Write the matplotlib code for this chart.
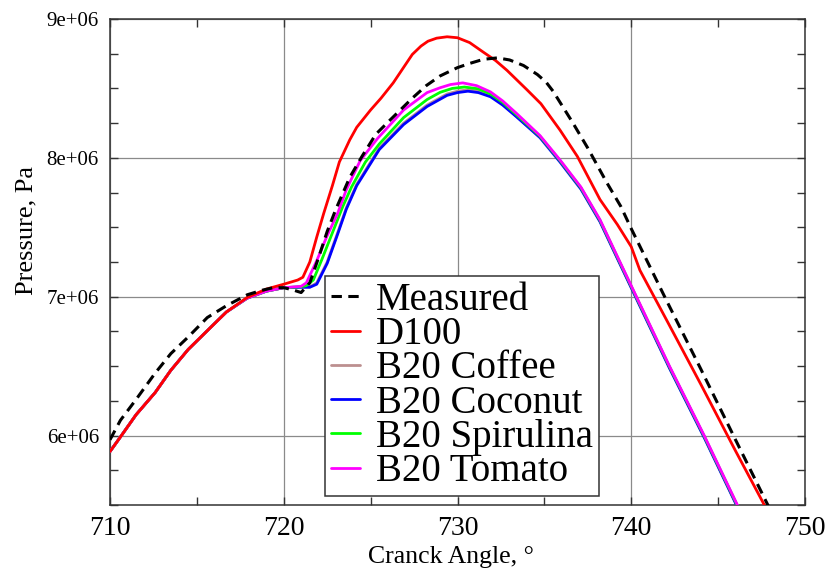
import matplotlib
matplotlib.use("Agg")
import matplotlib.pyplot as plt
from matplotlib.ticker import FixedLocator, MultipleLocator, FixedFormatter

plt.rcParams['font.family'] = ['Liberation Serif', 'DejaVu Serif']

# ---------------- data (pressure in Pa) ----------------
measured_x = [710.0, 710.6, 711.5, 712.6, 713.5, 714.5, 715.6, 716.7, 717.9, 718.7,
              719.4, 720.0, 720.5, 721.0, 721.5, 722.0, 722.5, 723.0, 723.8, 724.5,
              725.3, 726.1, 727.4, 728.2, 729.0, 730.0, 730.7, 731.5, 732.3, 733.0,
              733.8, 734.6, 735.1, 735.5, 736.6, 737.5, 738.6, 739.4, 740.0, 742.0,
              744.0, 746.0, 747.9]
measured_y = [5.97e6, 6.11e6, 6.26e6, 6.45e6, 6.59e6, 6.71e6, 6.85e6, 6.935e6, 7.014e6, 7.045e6,
              7.065e6, 7.065e6, 7.05e6, 7.03e6, 7.10e6, 7.28e6, 7.47e6, 7.63e6, 7.86e6, 8.01e6,
              8.17e6, 8.27e6, 8.43e6, 8.52e6, 8.59e6, 8.65e6, 8.68e6, 8.71e6, 8.72e6, 8.705e6,
              8.665e6, 8.60e6, 8.545e6, 8.48e6, 8.26e6, 8.07e6, 7.82e6, 7.65e6, 7.49e6, 6.98e6,
              6.48e6, 5.97e6, 5.49e6]

d100_x = [710.0, 710.6, 711.5, 712.6, 713.5, 714.5, 715.8, 716.7, 717.9, 719.0,
          720.0, 720.8, 721.1, 721.5, 721.9, 722.3, 722.8, 723.2, 723.8, 724.2,
          725.0, 725.6, 726.3, 727.4, 727.9, 728.3, 728.8, 729.4, 730.0, 730.7,
          731.5, 732.2, 732.85, 734.0, 734.8, 735.9, 736.9, 738.2, 739.2, 740.0,
          740.5, 742.0, 744.0, 746.0, 748.0]
d100_y = [5.885e6, 5.99e6, 6.15e6, 6.31e6, 6.47e6, 6.62e6, 6.78e6, 6.89e6, 6.995e6, 7.055e6,
          7.09e6, 7.12e6, 7.14e6, 7.25e6, 7.43e6, 7.60e6, 7.80e6, 7.97e6, 8.13e6, 8.22e6,
          8.345e6, 8.43e6, 8.54e6, 8.745e6, 8.805e6, 8.84e6, 8.862e6, 8.872e6, 8.865e6, 8.83e6,
          8.76e6, 8.70e6, 8.63e6, 8.49e6, 8.39e6, 8.20e6, 8.01e6, 7.70e6, 7.52e6, 7.36e6,
          7.19e6, 6.84e6, 6.37e6, 5.89e6, 5.42e6]

tomato_x = [710.0, 710.6, 711.5, 712.6, 713.5, 714.5, 715.8, 716.7, 717.9, 719.0,
            720.0, 721.0, 721.3, 721.9, 722.5, 723.1, 723.6, 724.4, 725.4, 726.9,
            728.25, 729.0, 729.6, 730.3, 731.1, 731.9, 732.6, 733.4, 734.75, 735.9,
            737.1, 738.2, 739.2, 740.3, 742.2, 744.2, 746.3]
tomato_y = [5.885e6, 5.99e6, 6.15e6, 6.31e6, 6.47e6, 6.62e6, 6.78e6, 6.89e6, 6.99e6, 7.04e6,
            7.065e6, 7.075e6, 7.10e6, 7.26e6, 7.44e6, 7.60e6, 7.77e6, 7.98e6, 8.14e6, 8.345e6,
            8.47e6, 8.505e6, 8.528e6, 8.54e6, 8.52e6, 8.475e6, 8.41e6, 8.32e6, 8.16e6, 7.985e6,
            7.79e6, 7.555e6, 7.29e6, 7.0e6, 6.5e6, 6.0e6, 5.45e6]

spirulina_x = [710.0, 710.6, 711.5, 712.6, 713.5, 714.5, 715.8, 716.7, 717.9, 719.0,
               720.0, 721.0, 721.3, 721.7, 722.2, 722.8, 723.4, 723.9, 724.7, 725.5,
               726.9, 728.25, 729.0, 729.7, 730.4, 731.2, 731.9, 732.6, 733.4, 734.75,
               735.9, 737.1, 738.2, 739.2, 740.3, 742.2, 744.2, 746.3]
spirulina_y = [5.885e6, 5.99e6, 6.15e6, 6.31e6, 6.47e6, 6.62e6, 6.78e6, 6.89e6, 6.99e6, 7.04e6,
               7.065e6, 7.072e6, 7.08e6, 7.12e6, 7.27e6, 7.46e6, 7.65e6, 7.79e6, 7.97e6, 8.10e6,
               8.29e6, 8.42e6, 8.472e6, 8.50e6, 8.51e6, 8.497e6, 8.46e6, 8.40e6, 8.31e6, 8.155e6,
               7.98e6, 7.785e6, 7.55e6, 7.285e6, 6.995e6, 6.495e6, 5.995e6, 5.445e6]

coffee_x = [710.0, 710.6, 711.5, 712.6, 713.5, 714.5, 715.8, 716.7, 717.9, 719.0,
            720.0, 721.0, 721.5, 721.9, 722.5, 723.1, 723.6, 724.2, 725.0, 725.5,
            726.9, 728.25, 729.4, 730.0, 730.6, 731.2, 731.9, 732.6, 733.4, 734.75,
            735.9, 737.1, 738.2, 739.2, 740.3, 742.2, 744.2, 746.3]
coffee_y = [5.885e6, 5.99e6, 6.15e6, 6.31e6, 6.47e6, 6.62e6, 6.78e6, 6.89e6, 6.99e6, 7.04e6,
            7.065e6, 7.07e6, 7.07e6, 7.10e6, 7.25e6, 7.46e6, 7.64e6, 7.81e6, 7.97e6, 8.07e6,
            8.25e6, 8.38e6, 8.46e6, 8.48e6, 8.49e6, 8.48e6, 8.45e6, 8.39e6, 8.30e6, 8.15e6,
            7.975e6, 7.78e6, 7.545e6, 7.28e6, 6.99e6, 6.49e6, 5.99e6, 5.44e6]

coconut_x = [710.0, 710.6, 711.5, 712.6, 713.5, 714.5, 715.8, 716.7, 717.9, 719.0,
             720.0, 721.0, 721.5, 721.9, 722.5, 723.1, 723.6, 724.2, 725.0, 725.5,
             726.9, 728.25, 729.4, 730.0, 730.6, 731.2, 731.9, 732.6, 733.4, 734.75,
             735.9, 737.1, 738.2, 739.2, 740.3, 742.2, 744.2, 746.3]
coconut_y = [5.885e6, 5.99e6, 6.15e6, 6.31e6, 6.47e6, 6.62e6, 6.78e6, 6.89e6, 6.99e6, 7.04e6,
             7.065e6, 7.068e6, 7.068e6, 7.09e6, 7.24e6, 7.45e6, 7.63e6, 7.80e6, 7.96e6, 8.06e6,
             8.24e6, 8.37e6, 8.45e6, 8.47e6, 8.48e6, 8.47e6, 8.44e6, 8.38e6, 8.295e6, 8.145e6,
             7.97e6, 7.775e6, 7.54e6, 7.275e6, 6.985e6, 6.485e6, 5.985e6, 5.435e6]

xticks = [710, 720, 730, 740, 750]
xtick_labels = ['710', '720', '730', '740', '750']
yticks = [6e6, 7e6, 8e6, 9e6]
ytick_labels = ['6e+06', '7e+06', '8e+06', '9e+06']

# ---------------- figure ----------------
fig = plt.figure(figsize=(8.31, 5.74), dpi=100)
ax = fig.add_axes([110/831, 1-505/574, 695/831, 486/574])

kw = dict(lw=2.0, solid_joinstyle='round', solid_capstyle='round', zorder=3)
ax.plot(coffee_x, coffee_y, color='#bc8f8f', label='B20 Coffee', **kw)
ax.plot(coconut_x, coconut_y, color='#0000ff', label='B20 Coconut', **kw)
ax.plot(spirulina_x, spirulina_y, color='#00ff00', label='B20 Spirulina', **kw)
ax.plot(tomato_x, tomato_y, color='#ff00ff', label='B20 Tomato', **kw)
ax.plot(d100_x, d100_y, color='#ff0000', label='D100', **kw)
ax.plot(measured_x, measured_y, color='black', lw=2.2, dashes=(3.4, 2.1),
        dash_joinstyle='round', label='Measured', zorder=4)

ax.set_xlim(710, 750)
ax.set_ylim(5.5e6, 9e6)
ax.xaxis.set_major_locator(FixedLocator(xticks))
ax.xaxis.set_major_formatter(FixedFormatter(xtick_labels))
ax.yaxis.set_major_locator(FixedLocator(yticks))
ax.yaxis.set_major_formatter(FixedFormatter(ytick_labels))
ax.xaxis.set_minor_locator(MultipleLocator(5))
ax.yaxis.set_minor_locator(MultipleLocator(0.25e6))

ax.grid(True, which='major', color='#8a8a8a', lw=0.9, zorder=1)
ax.set_axisbelow(True)
for s in ax.spines.values():
    s.set_color('#333333')
    s.set_linewidth(1.1)

ax.tick_params(which='both', direction='in', top=True, right=True, length=5.5, width=1.0, color='#333333')
ax.tick_params(axis='x', which='major', labelsize=20, pad=8)
ax.tick_params(axis='y', which='major', labelsize=15, pad=8)

ax.set_xlabel('Cranck Angle, °', fontsize=18.5)
ax.set_ylabel('Pressure, Pa', fontsize=19)
ax.xaxis.set_label_coords(0.491, -0.085)
ax.yaxis.set_label_coords(-0.105, 0.565)

handles, labels = ax.get_legend_handles_labels()
order = ['Measured', 'D100', 'B20 Coffee', 'B20 Coconut', 'B20 Spirulina', 'B20 Tomato']
hmap = dict(zip(labels, handles))
leg = ax.legend([hmap[k] for k in order], order, loc='upper left',
                bbox_to_anchor=((325-110)/695, (505-276)/486), borderaxespad=0,
                fontsize=28, labelspacing=-0.07, handlelength=0.75, handletextpad=0.41,
                borderpad=0.15, fancybox=False, framealpha=1, edgecolor='#333333')
leg.get_frame().set_linewidth(1.1)
leg.set_zorder(10)

fig.savefig('out.png', dpi=100)
